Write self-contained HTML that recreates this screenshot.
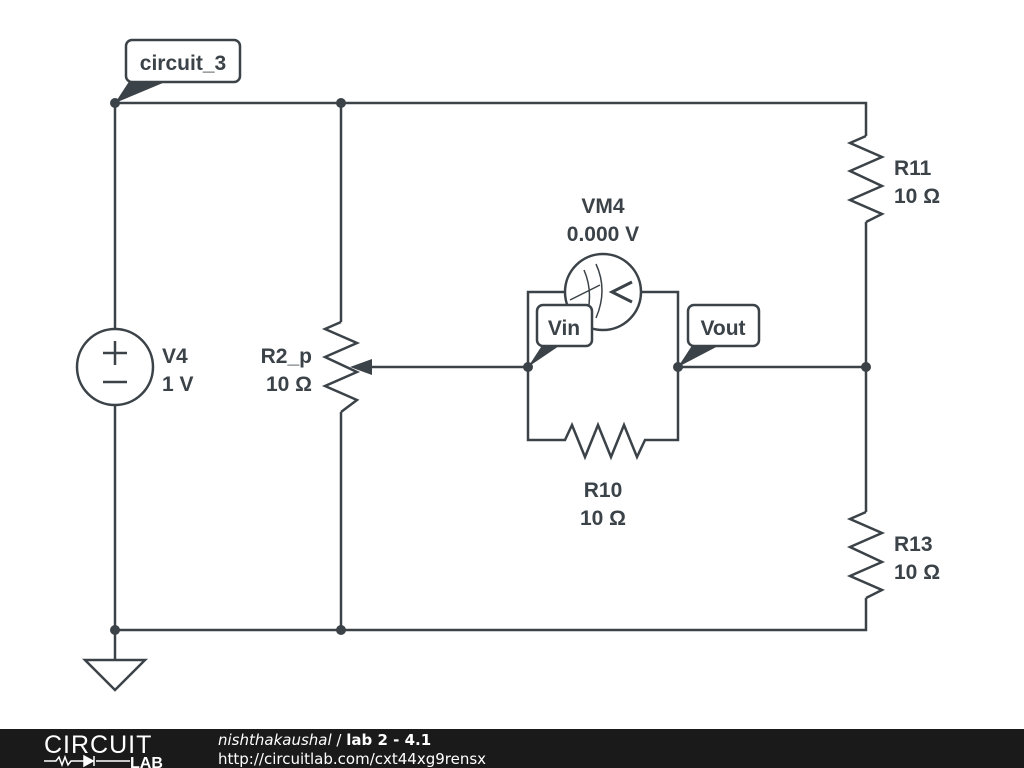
<!DOCTYPE html>
<html><head><style>
body{margin:0;width:1024px;height:768px;background:#fff;overflow:hidden;position:relative;font-family:"Liberation Sans",sans-serif}
</style></head><body>
<svg width="1024" height="768" style="position:absolute;left:0;top:0">
<g stroke="#3b4349" stroke-width="2.5" fill="none" stroke-linejoin="miter">
<path d="M115 103 H866 V136"/>
<path d="M866 222 V512"/>
<path d="M866 598 V630 H115 V405"/>
<path d="M115 329 V103"/>
<path d="M341 103 V322"/>
<path d="M341 412 V630"/>
<path d="M115 630 V660"/>
<path d="M85 660 H145 L115 690 Z"/>
<path d="M866 136 L850 143 L882 157 L850 171 L882 186 L850 200 L882 214 L866 222"/>
<path d="M866 512 L850 519 L882 533 L850 547 L882 562 L850 576 L882 590 L866 598"/>
<path d="M341 322 L325 329 L357 343 L325 357 L357 372 L325 386 L357 400 L341 412"/>
<circle cx="115" cy="367" r="38"/>
<path d="M103 353 H127 M115 341 V365 M103 382 H127"/>
<path d="M360 367 H528 M678 367 H866"/>
<path d="M528 367 V292 H566 M641 292 H678 V440 H645 L637 457 L624 425 L611 457 L598 425 L585 457 L572 425 L565 440 H528 V367"/>
<circle cx="603" cy="292" r="38" fill="#fff"/>
<path d="M570 300 L600 285 M584 270 Q595 295 584 325 M596 264 Q608 290 596 318" stroke-width="1.5"/>
<path d="M632 282 L612 292 L632 302" stroke-width="3"/>
</g>
<path d="M350 367 L372 359 L372 375 Z" fill="#3b4349"/>
<g fill="#3b4349">
<circle cx="115" cy="103" r="5"/><circle cx="341" cy="103" r="5"/>
<circle cx="115" cy="630" r="5"/><circle cx="341" cy="630" r="5"/>
<circle cx="866" cy="367" r="5"/><circle cx="528" cy="367" r="5"/><circle cx="678" cy="367" r="5"/>
<path d="M115 103 L130 80 L170 80 Z"/>
<path d="M528 367 L543 344 L562 344 Z"/>
<path d="M678 367 L693 344 L722 344 Z"/>
</g>
<g stroke="#3b4349" stroke-width="2.5" fill="#fff">
<rect x="126" y="40" width="114" height="42" rx="6"/>
<rect x="537" y="305" width="55" height="41" rx="6"/>
<rect x="688" y="305" width="71" height="41" rx="6"/>
</g>
<g fill="#3b4349" font-family="Liberation Sans, sans-serif" font-weight="bold" font-size="21">
<text x="183" y="70" text-anchor="middle">circuit_3</text>
<text x="564" y="335" text-anchor="middle">Vin</text>
<text x="723" y="335" text-anchor="middle">Vout</text>
<text x="162" y="363">V4</text><text x="162" y="391">1 V</text>
<text x="312" y="363" text-anchor="end">R2_p</text><text x="312" y="391" text-anchor="end">10 Ω</text>
<text x="894" y="175">R11</text><text x="894" y="203">10 Ω</text>
<text x="894" y="551">R13</text><text x="894" y="579">10 Ω</text>
<text x="603" y="497" text-anchor="middle">R10</text><text x="603" y="525" text-anchor="middle">10 Ω</text>
<text x="603" y="213" text-anchor="middle">VM4</text><text x="603" y="241" text-anchor="middle">0.000 V</text>
</g>
<rect x="0" y="729" width="1024" height="39" fill="#1a1a1a"/>
<text x="44" y="753" fill="#fff" font-size="25" font-family="Liberation Sans, sans-serif" letter-spacing="1">CIRCUIT</text>
<path d="M44 761 H56 L59 757 L62 765 L65 757 L68 765 L71 761 H84 M96 761 H130" stroke="#fff" stroke-width="1.5" fill="none"/>
<path d="M84 756 L93 761 L84 766 Z M94 756 V766" fill="#fff" stroke="#fff" stroke-width="1.5"/>
<text x="130" y="768" fill="#fff" font-size="16" font-weight="bold" font-family="Liberation Sans, sans-serif">LAB</text>
<text x="218" y="745" fill="#fff" font-size="15" font-family="DejaVu Sans, sans-serif"><tspan font-style="italic">nishthakaushal</tspan> / <tspan font-weight="bold">lab 2 - 4.1</tspan></text>
<text x="218" y="764" fill="#fff" font-size="15" font-family="DejaVu Sans, sans-serif">http://circuitlab.com/cxt44xg9rensx</text>
</svg>
</body></html>
